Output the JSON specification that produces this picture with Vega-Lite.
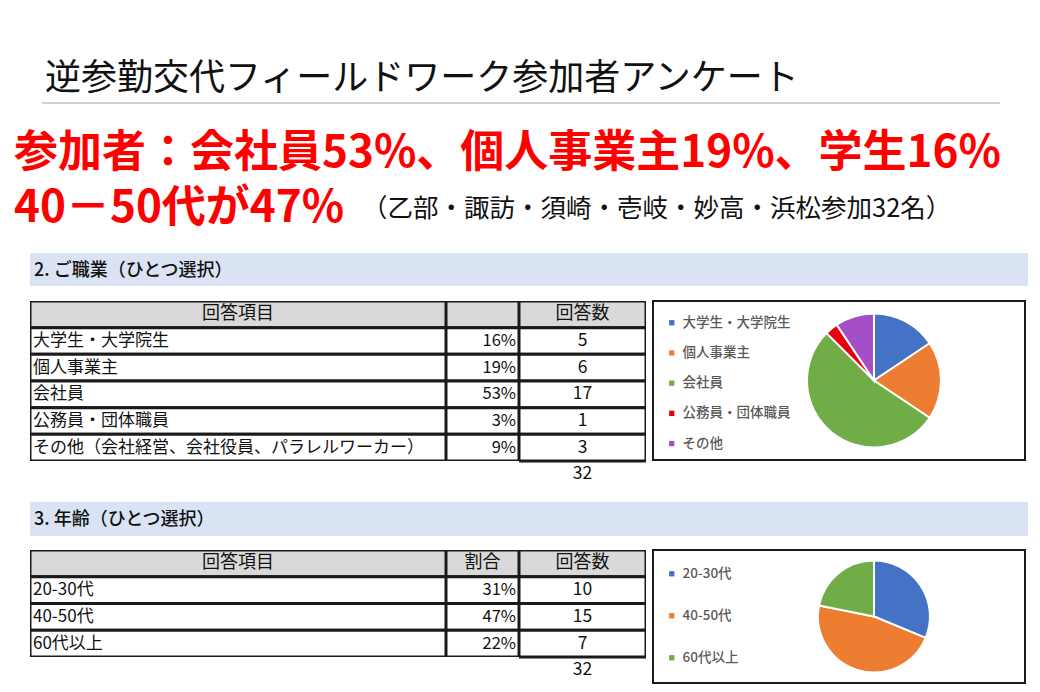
{
 "$schema": "https://vega.github.io/schema/vega-lite/v6.json",
 "padding": 0,
 "background": "white",
 "spacing": 0,
 "resolve": {"scale": {"color": "independent"}, "legend": {"color": "independent"}},
 "config": {"view": {"stroke": null}, "font": "Noto Sans CJK JP", "text": {"font": "Noto Sans CJK JP"}, "legend": {"labelFont": "Noto Sans CJK JP"}},
 "datasets": {
  "job": [
   {"item": "大学生・大学院生", "label": "大学生・大学院生", "pct": 0.16, "n": 5, "rank": 1},
   {"item": "個人事業主", "label": "個人事業主", "pct": 0.19, "n": 6, "rank": 2},
   {"item": "会社員", "label": "会社員", "pct": 0.53, "n": 17, "rank": 3},
   {"item": "公務員・団体職員", "label": "公務員・団体職員", "pct": 0.03, "n": 1, "rank": 4},
   {"item": "その他（会社経営、会社役員、パラレルワーカー）", "label": "その他", "pct": 0.09, "n": 3, "rank": 5}
  ],
  "age": [
   {"item": "20-30代", "label": "20-30代", "pct": 0.31, "n": 10, "rank": 1},
   {"item": "40-50代", "label": "40-50代", "pct": 0.47, "n": 15, "rank": 2},
   {"item": "60代以上", "label": "60代以上", "pct": 0.22, "n": 7, "rank": 3}
  ]
 },
 "vconcat": [
  {"width": 1, "height": 55, "data": {"values": [{}]}, "mark": {"type": "point", "opacity": 0, "size": 0, "strokeWidth": 0}},
  {"hconcat": [
    {"width": 45, "height": 1, "data": {"values": [{}]}, "mark": {"type": "point", "opacity": 0, "size": 0, "strokeWidth": 0}},
    {"width": 900, "height": 47, "data": {"values": [{"t": "逆参勤交代フィールドワーク参加者アンケート"}]},
     "mark": {"type": "text", "align": "left", "baseline": "middle", "fontSize": 36, "color": "#111111"},
     "encoding": {"text": {"field": "t"}, "x": {"datum": 0, "type": "quantitative", "scale": {"domain": [0, 1]}, "axis": null}}}
   ], "spacing": 0, "bounds": "flush"},
  {"hconcat": [
    {"width": 42, "height": 1, "data": {"values": [{}]}, "mark": {"type": "point", "opacity": 0, "size": 0, "strokeWidth": 0}},
    {"width": 958, "height": 2, "view": {"fill": "#d2d2d2"}, "data": {"values": [{}]}, "mark": {"type": "point", "opacity": 0, "size": 0, "strokeWidth": 0}}
   ], "spacing": 0, "bounds": "flush"},
  {"width": 1, "height": 23, "data": {"values": [{}]}, "mark": {"type": "point", "opacity": 0, "size": 0, "strokeWidth": 0}},
  {"hconcat": [
    {"width": 14, "height": 1, "data": {"values": [{}]}, "mark": {"type": "point", "opacity": 0, "size": 0, "strokeWidth": 0}},
    {"width": 1000, "height": 53, "data": {"values": [{"t": "参加者：会社員53%、個人事業主19%、学生16%"}]},
     "mark": {"type": "text", "align": "left", "baseline": "middle", "fontSize": 44, "fontWeight": "bold", "color": "#ff0000"},
     "encoding": {"text": {"field": "t"}, "x": {"datum": 0, "type": "quantitative", "scale": {"domain": [0, 1]}, "axis": null}}}
   ], "spacing": 0, "bounds": "flush"},
  {"hconcat": [
    {"width": 14, "height": 1, "data": {"values": [{}]}, "mark": {"type": "point", "opacity": 0, "size": 0, "strokeWidth": 0}},
    {"width": 348, "height": 58, "data": {"values": [{"t": "40－50代が47%"}]},
     "mark": {"type": "text", "align": "left", "baseline": "middle", "fontSize": 44, "fontWeight": "bold", "color": "#ff0000"},
     "encoding": {"text": {"field": "t"}, "x": {"datum": 0, "type": "quantitative", "scale": {"domain": [0, 1]}, "axis": null}}},
    {"width": 620, "height": 58, "data": {"values": [{"t": "（乙部・諏訪・須崎・壱岐・妙高・浜松参加32名）"}]},
     "mark": {"type": "text", "align": "left", "baseline": "middle", "fontSize": 25.5, "dy": 0, "color": "#111111"},
     "encoding": {"text": {"field": "t"}, "x": {"datum": 0, "type": "quantitative", "scale": {"domain": [0, 1]}, "axis": null}}}
   ], "spacing": 0, "bounds": "flush"},
  {"width": 1, "height": 15, "data": {"values": [{}]}, "mark": {"type": "point", "opacity": 0, "size": 0, "strokeWidth": 0}},
  {"hconcat": [
    {"width": 30, "height": 1, "data": {"values": [{}]}, "mark": {"type": "point", "opacity": 0, "size": 0, "strokeWidth": 0}},
    {"width": 998, "height": 33, "view": {"fill": "#dae3f3"}, "data": {"values": [{"t": "2. ご職業（ひとつ選択）"}]},
     "mark": {"type": "text", "align": "left", "baseline": "middle", "dx": 4, "dy": 1, "fontSize": 18, "fontWeight": 500, "color": "#111111"},
     "encoding": {"text": {"field": "t"}, "x": {"datum": 0, "type": "quantitative", "scale": {"domain": [0, 1]}, "axis": null}}}
   ], "spacing": 0, "bounds": "flush"},
  {"width": 1, "height": 14, "data": {"values": [{}]}, "mark": {"type": "point", "opacity": 0, "size": 0, "strokeWidth": 0}},
  {"hconcat": [
    {"width": 30, "height": 1, "data": {"values": [{}]}, "mark": {"type": "point", "opacity": 0, "size": 0, "strokeWidth": 0}},
    {"width": 416, "height": {"step": 26.67}, "resolve": {"scale": {"x": "independent"}},
     "layer": [
      {"data": {"values": [{"key": "h", "label": "回答項目"}]},
       "mark": {"type": "rect", "fill": "#d9d9d9", "stroke": "#1a1a1a", "strokeWidth": 3, "clip": true},
       "encoding": {"y": {"field": "key", "type": "nominal", "scale": {"domain": ["h", "大学生・大学院生", "個人事業主", "会社員", "公務員・団体職員", "その他（会社経営、会社役員、パラレルワーカー）"], "paddingInner": 0, "paddingOuter": 0}, "axis": null}}},
      {"data": {"values": [{"key": "h", "label": "回答項目"}]},
       "mark": {"type": "text", "baseline": "middle", "fontSize": 18, "color": "#111111"},
       "encoding": {"y": {"field": "key", "type": "nominal", "axis": null}, "text": {"field": "label"}}},
      {"data": {"name": "job"},
       "mark": {"type": "rect", "fill": "#ffffff", "stroke": "#1a1a1a", "strokeWidth": 3, "clip": true},
       "encoding": {"y": {"field": "item", "type": "nominal", "axis": null}}},
      {"data": {"name": "job"},
       "mark": {"type": "text", "align": "left", "baseline": "middle", "dx": 3, "fontSize": 17, "color": "#111111"},
       "encoding": {"y": {"field": "item", "type": "nominal", "axis": null}, "text": {"field": "item"}, "x": {"datum": 0, "type": "quantitative", "scale": {"domain": [0, 1]}, "axis": null}}}
     ]},
    {"width": 73, "height": {"step": 26.67}, "resolve": {"scale": {"x": "independent"}},
     "layer": [
      {"data": {"values": [{"key": "h", "label": ""}]},
       "mark": {"type": "rect", "fill": "#d9d9d9", "stroke": "#1a1a1a", "strokeWidth": 3, "clip": true},
       "encoding": {"y": {"field": "key", "type": "nominal", "scale": {"domain": ["h", "大学生・大学院生", "個人事業主", "会社員", "公務員・団体職員", "その他（会社経営、会社役員、パラレルワーカー）"], "paddingInner": 0, "paddingOuter": 0}, "axis": null}}},
      {"data": {"name": "job"},
       "mark": {"type": "rect", "fill": "#ffffff", "stroke": "#1a1a1a", "strokeWidth": 3, "clip": true},
       "encoding": {"y": {"field": "item", "type": "nominal", "axis": null}}},
      {"data": {"name": "job"},
       "mark": {"type": "text", "align": "right", "baseline": "middle", "dx": -3, "fontSize": 16.5, "color": "#111111"},
       "encoding": {"y": {"field": "item", "type": "nominal", "axis": null}, "text": {"field": "pct", "type": "quantitative", "format": ".0%"}, "x": {"datum": 1, "type": "quantitative", "scale": {"domain": [0, 1]}, "axis": null}}}
     ]},
    {"width": 127, "height": {"step": 26.67},
     "layer": [
      {"data": {"values": [{"key": "h", "label": "回答数"}]},
       "mark": {"type": "rect", "fill": "#d9d9d9", "stroke": "#1a1a1a", "strokeWidth": 3, "clip": true},
       "encoding": {"y": {"field": "key", "type": "nominal", "scale": {"domain": ["h", "大学生・大学院生", "個人事業主", "会社員", "公務員・団体職員", "その他（会社経営、会社役員、パラレルワーカー）", "t"], "paddingInner": 0, "paddingOuter": 0}, "axis": null}}},
      {"data": {"values": [{"key": "h", "label": "回答数"}]},
       "mark": {"type": "text", "baseline": "middle", "fontSize": 18, "color": "#111111"},
       "encoding": {"y": {"field": "key", "type": "nominal", "axis": null}, "text": {"field": "label"}}},
      {"data": {"name": "job"},
       "mark": {"type": "rect", "fill": "#ffffff", "stroke": "#1a1a1a", "strokeWidth": 3, "clip": true},
       "encoding": {"y": {"field": "item", "type": "nominal", "axis": null}}},
      {"data": {"name": "job"},
       "mark": {"type": "text", "baseline": "middle", "fontSize": 17.5, "color": "#111111"},
       "encoding": {"y": {"field": "item", "type": "nominal", "axis": null}, "text": {"field": "n", "type": "quantitative"}}},
      {"data": {"name": "job"},
       "transform": [{"aggregate": [{"op": "sum", "field": "n", "as": "total"}]}],
       "mark": {"type": "text", "baseline": "middle", "fontSize": 17.5, "color": "#111111"},
       "encoding": {"y": {"datum": "t", "type": "nominal", "axis": null}, "text": {"field": "total", "type": "quantitative"}}}
     ]},
    {"width": 7, "height": 1, "data": {"values": [{}]}, "mark": {"type": "point", "opacity": 0, "size": 0, "strokeWidth": 0}},
    {"width": 372, "height": 159, "view": {"stroke": "#1a1a1a", "strokeWidth": 2},
     "data": {"name": "job"},
     "mark": {"type": "arc", "outerRadius": 67, "stroke": "#ffffff", "strokeWidth": 2},
     "encoding": {
      "theta": {"field": "n", "type": "quantitative"},
      "order": {"field": "rank", "type": "quantitative"},
      "x": {"datum": 0.594, "type": "quantitative", "scale": {"domain": [0, 1]}, "axis": null},
      "color": {"field": "label", "type": "nominal",
       "scale": {"domain": ["大学生・大学院生", "個人事業主", "会社員", "公務員・団体職員", "その他"], "range": ["#4472c4", "#ed7d31", "#70ad47", "#e8000b", "#a44fc7"]},
       "legend": {"title": null, "orient": "none", "legendX": 12, "legendY": 15, "symbolType": "square", "symbolSize": 28, "symbolStrokeWidth": 0, "labelFontSize": 13.5, "labelFontWeight": 500, "labelColor": "#595959", "rowPadding": 15.2, "labelOffset": 4}}
     }}
   ], "spacing": 0, "bounds": "flush", "resolve": {"scale": {"color": "independent"}, "legend": {"color": "independent"}}},
  {"width": 1, "height": 13.3, "data": {"values": [{}]}, "mark": {"type": "point", "opacity": 0, "size": 0, "strokeWidth": 0}},
  {"hconcat": [
    {"width": 30, "height": 1, "data": {"values": [{}]}, "mark": {"type": "point", "opacity": 0, "size": 0, "strokeWidth": 0}},
    {"width": 998, "height": 34, "view": {"fill": "#dae3f3"}, "data": {"values": [{"t": "3. 年齢（ひとつ選択）"}]},
     "mark": {"type": "text", "align": "left", "baseline": "middle", "dx": 4, "dy": 1, "fontSize": 18, "fontWeight": 500, "color": "#111111"},
     "encoding": {"text": {"field": "t"}, "x": {"datum": 0, "type": "quantitative", "scale": {"domain": [0, 1]}, "axis": null}}}
   ], "spacing": 0, "bounds": "flush"},
  {"width": 1, "height": 13, "data": {"values": [{}]}, "mark": {"type": "point", "opacity": 0, "size": 0, "strokeWidth": 0}},
  {"hconcat": [
    {"width": 30, "height": 1, "data": {"values": [{}]}, "mark": {"type": "point", "opacity": 0, "size": 0, "strokeWidth": 0}},
    {"width": 416, "height": {"step": 26.75}, "resolve": {"scale": {"x": "independent"}},
     "layer": [
      {"data": {"values": [{"key": "h", "label": "回答項目"}]},
       "mark": {"type": "rect", "fill": "#d9d9d9", "stroke": "#1a1a1a", "strokeWidth": 3, "clip": true},
       "encoding": {"y": {"field": "key", "type": "nominal", "scale": {"domain": ["h", "20-30代", "40-50代", "60代以上"], "paddingInner": 0, "paddingOuter": 0}, "axis": null}}},
      {"data": {"values": [{"key": "h", "label": "回答項目"}]},
       "mark": {"type": "text", "baseline": "middle", "fontSize": 18, "color": "#111111"},
       "encoding": {"y": {"field": "key", "type": "nominal", "axis": null}, "text": {"field": "label"}}},
      {"data": {"name": "age"},
       "mark": {"type": "rect", "fill": "#ffffff", "stroke": "#1a1a1a", "strokeWidth": 3, "clip": true},
       "encoding": {"y": {"field": "item", "type": "nominal", "axis": null}}},
      {"data": {"name": "age"},
       "mark": {"type": "text", "align": "left", "baseline": "middle", "dx": 3, "fontSize": 17, "color": "#111111"},
       "encoding": {"y": {"field": "item", "type": "nominal", "axis": null}, "text": {"field": "item"}, "x": {"datum": 0, "type": "quantitative", "scale": {"domain": [0, 1]}, "axis": null}}}
     ]},
    {"width": 73, "height": {"step": 26.75}, "resolve": {"scale": {"x": "independent"}},
     "layer": [
      {"data": {"values": [{"key": "h", "label": "割合"}]},
       "mark": {"type": "rect", "fill": "#d9d9d9", "stroke": "#1a1a1a", "strokeWidth": 3, "clip": true},
       "encoding": {"y": {"field": "key", "type": "nominal", "scale": {"domain": ["h", "20-30代", "40-50代", "60代以上"], "paddingInner": 0, "paddingOuter": 0}, "axis": null}}},
      {"data": {"values": [{"key": "h", "label": "割合"}]},
       "mark": {"type": "text", "baseline": "middle", "fontSize": 18, "color": "#111111"},
       "encoding": {"y": {"field": "key", "type": "nominal", "axis": null}, "text": {"field": "label"}}},
      {"data": {"name": "age"},
       "mark": {"type": "rect", "fill": "#ffffff", "stroke": "#1a1a1a", "strokeWidth": 3, "clip": true},
       "encoding": {"y": {"field": "item", "type": "nominal", "axis": null}}},
      {"data": {"name": "age"},
       "mark": {"type": "text", "align": "right", "baseline": "middle", "dx": -3, "fontSize": 16.5, "color": "#111111"},
       "encoding": {"y": {"field": "item", "type": "nominal", "axis": null}, "text": {"field": "pct", "type": "quantitative", "format": ".0%"}, "x": {"datum": 1, "type": "quantitative", "scale": {"domain": [0, 1]}, "axis": null}}}
     ]},
    {"width": 127, "height": {"step": 26.75},
     "layer": [
      {"data": {"values": [{"key": "h", "label": "回答数"}]},
       "mark": {"type": "rect", "fill": "#d9d9d9", "stroke": "#1a1a1a", "strokeWidth": 3, "clip": true},
       "encoding": {"y": {"field": "key", "type": "nominal", "scale": {"domain": ["h", "20-30代", "40-50代", "60代以上", "t"], "paddingInner": 0, "paddingOuter": 0}, "axis": null}}},
      {"data": {"values": [{"key": "h", "label": "回答数"}]},
       "mark": {"type": "text", "baseline": "middle", "fontSize": 18, "color": "#111111"},
       "encoding": {"y": {"field": "key", "type": "nominal", "axis": null}, "text": {"field": "label"}}},
      {"data": {"name": "age"},
       "mark": {"type": "rect", "fill": "#ffffff", "stroke": "#1a1a1a", "strokeWidth": 3, "clip": true},
       "encoding": {"y": {"field": "item", "type": "nominal", "axis": null}}},
      {"data": {"name": "age"},
       "mark": {"type": "text", "baseline": "middle", "fontSize": 17.5, "color": "#111111"},
       "encoding": {"y": {"field": "item", "type": "nominal", "axis": null}, "text": {"field": "n", "type": "quantitative"}}},
      {"data": {"name": "age"},
       "transform": [{"aggregate": [{"op": "sum", "field": "n", "as": "total"}]}],
       "mark": {"type": "text", "baseline": "middle", "fontSize": 17.5, "color": "#111111"},
       "encoding": {"y": {"datum": "t", "type": "nominal", "axis": null}, "text": {"field": "total", "type": "quantitative"}}}
     ]},
    {"width": 7, "height": 1, "data": {"values": [{}]}, "mark": {"type": "point", "opacity": 0, "size": 0, "strokeWidth": 0}},
    {"width": 372, "height": 133, "view": {"stroke": "#1a1a1a", "strokeWidth": 2},
     "data": {"name": "age"},
     "mark": {"type": "arc", "outerRadius": 56, "stroke": "#ffffff", "strokeWidth": 2},
     "encoding": {
      "theta": {"field": "n", "type": "quantitative"},
      "order": {"field": "rank", "type": "quantitative"},
      "x": {"datum": 0.594, "type": "quantitative", "scale": {"domain": [0, 1]}, "axis": null},
      "color": {"field": "label", "type": "nominal",
       "scale": {"domain": ["20-30代", "40-50代", "60代以上"], "range": ["#4472c4", "#ed7d31", "#70ad47"]},
       "legend": {"title": null, "orient": "none", "legendX": 12, "legendY": 17, "symbolType": "square", "symbolSize": 28, "symbolStrokeWidth": 0, "labelFontSize": 13.5, "labelFontWeight": 500, "labelColor": "#595959", "rowPadding": 27, "labelOffset": 4}}
     }}
   ], "spacing": 0, "bounds": "flush", "resolve": {"scale": {"color": "independent"}, "legend": {"color": "independent"}}}
 ]
}
